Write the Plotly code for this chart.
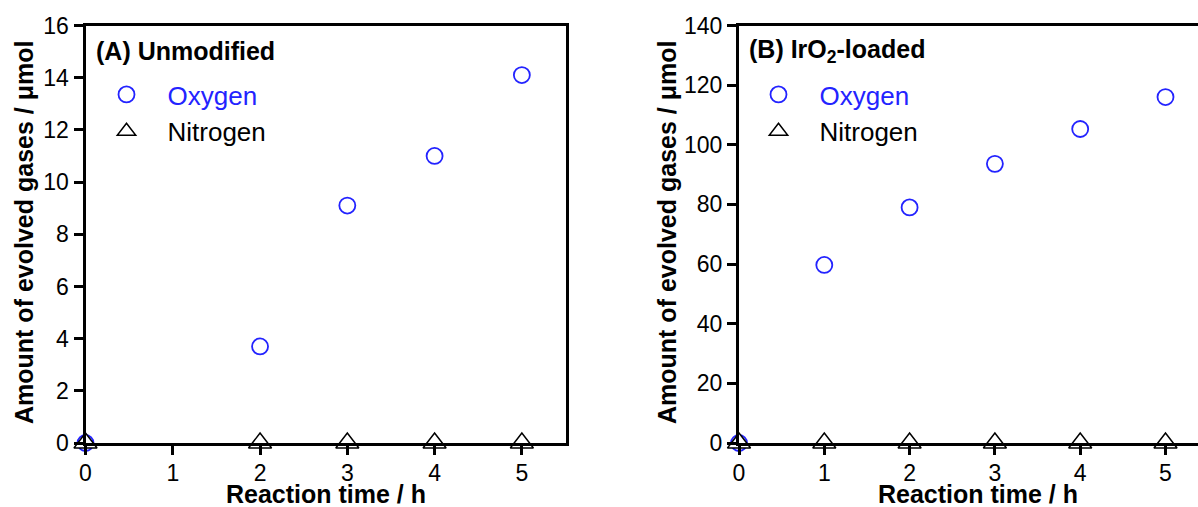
import plotly.graph_objects as go

# ---- data ----
time_a = [0, 2, 3, 4, 5]
oxygen_a = [0.0, 3.7, 9.1, 11.0, 14.1]
nitrogen_a = [0, 0, 0, 0, 0]

time_b = [0, 1, 2, 3, 4, 5]
oxygen_b = [0.0, 59.7, 79.0, 93.6, 105.3, 116.0]
nitrogen_b = [0, 0, 0, 0, 0, 0]

x_ticks = [0, 1, 2, 3, 4, 5]
y_ticks_a = [0, 2, 4, 6, 8, 10, 12, 14, 16]
y_ticks_b = [0, 20, 40, 60, 80, 100, 120, 140]

panel_a = "(A) Unmodified"
panel_b = "(B) IrO<sub>2</sub>-loaded"
x_title = "Reaction time / h"
y_title = "Amount of evolved gases / \u03bcmol"

BLUE = "rgb(35,35,255)"
FONT = "Liberation Sans, Arial, sans-serif"
W, H = 1198, 507

fig = go.Figure()

circ = dict(symbol="circle-open", size=16, color=BLUE, line=dict(width=1.8, color=BLUE))
tri = dict(symbol="triangle-up", size=20, color="white", line=dict(width=1.5, color="black"))

fig.add_trace(go.Scatter(x=time_a, y=oxygen_a, mode="markers", marker=circ,
                         name="<span style='color:rgb(35,35,255)'>Oxygen</span>",
                         legend="legend", legendgroup="a1", cliponaxis=False,
                         xaxis="x", yaxis="y"))
fig.add_trace(go.Scatter(x=time_a, y=nitrogen_a, mode="markers", marker=tri,
                         name="Nitrogen", legend="legend", legendgroup="a2", cliponaxis=False,
                         xaxis="x", yaxis="y"))
fig.add_trace(go.Scatter(x=time_b, y=oxygen_b, mode="markers", marker=circ,
                         name="<span style='color:rgb(35,35,255)'>Oxygen</span>",
                         legend="legend2", legendgroup="b1", cliponaxis=False,
                         xaxis="x2", yaxis="y2"))
fig.add_trace(go.Scatter(x=time_b, y=nitrogen_b, mode="markers", marker=tri,
                         name="Nitrogen", legend="legend2", legendgroup="b2", cliponaxis=False,
                         xaxis="x2", yaxis="y2"))

y_bot = 1 - 443 / H
y_top = 1 - 25.5 / H

axis_common = dict(showline=True, linecolor="black", linewidth=3, ticks="outside",
                   tickcolor="black", tickwidth=2.5, ticklen=9, showgrid=False, zeroline=False,
                   automargin=False,
                   tickfont=dict(family=FONT, size=23, color="black"))

legend_common = dict(xanchor="left", yanchor="top", bgcolor="rgba(0,0,0,0)",
                     font=dict(family=FONT, size=26, color="black"), itemwidth=72,
                     tracegroupgap=0)

fig.update_layout(
    width=W, height=H, margin=dict(l=0, r=0, t=0, b=0, autoexpand=False),
    paper_bgcolor="white", plot_bgcolor="white",
    font=dict(family=FONT, color="black"),
    xaxis=dict(domain=[85.5 / W, 565.5 / W], range=[0, 5.5], tickvals=x_ticks, mirror=True,
               anchor="y", ticklabelstandoff=-2, **axis_common),
    yaxis=dict(domain=[y_bot, y_top], range=[0, 16], tickvals=y_ticks_a, mirror=True,
               anchor="x", **axis_common),
    xaxis2=dict(domain=[739 / W, 1.0], range=[0, (W - 739) / 85.3], tickvals=x_ticks, mirror=True,
                anchor="y2", ticklabelstandoff=-2, **axis_common),
    yaxis2=dict(domain=[y_bot, y_top], range=[0, 140], tickvals=y_ticks_b, mirror=False,
                anchor="x2", **axis_common),
    legend=dict(x=85.5 / W, y=1 - 71 / H, **legend_common),
    legend2=dict(x=737.5 / W, y=1 - 71 / H, **legend_common),
)

ann_font_bold = dict(family=FONT, size=25, color="black")
annotations = [
    dict(text="<b>" + panel_a + "</b>", x=94 / W, y=1 - 51 / H, xanchor="left", yanchor="middle"),
    dict(text="<b>" + panel_b + "</b>", x=747 / W, y=1 - 51 / H, xanchor="left", yanchor="middle"),
    dict(text="<b>" + x_title + "</b>", x=326 / W, y=1 - 494 / H, xanchor="center", yanchor="middle"),
    dict(text="<b>" + x_title + "</b>", x=978 / W, y=1 - 494 / H, xanchor="center", yanchor="middle"),
    dict(text="<b>" + y_title + "</b>", x=24 / W, y=1 - 233 / H, xanchor="center", yanchor="middle",
         textangle=-90),
    dict(text="<b>" + y_title + "</b>", x=667 / W, y=1 - 233 / H, xanchor="center", yanchor="middle",
         textangle=-90),
]
for a in annotations:
    a.update(xref="paper", yref="paper", showarrow=False, font=ann_font_bold)
fig.update_layout(annotations=annotations)

fig.write_html("out.html")
